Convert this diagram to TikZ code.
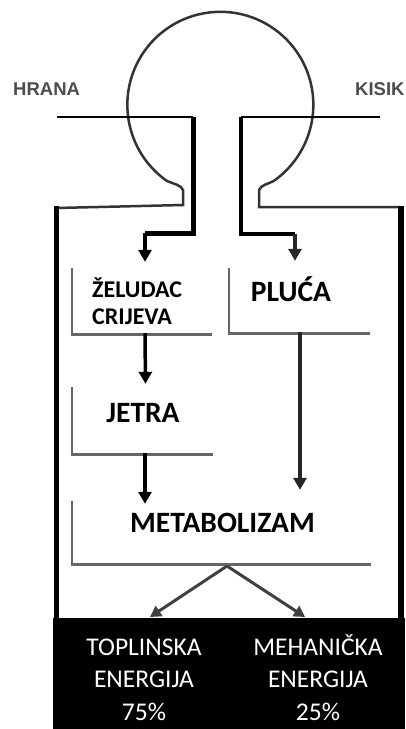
\documentclass[tikz,border=0pt]{standalone}
\usepackage{fontspec}
\setmainfont{Carlito}
\newfontfamily\inletfont{Liberation Sans}
\usetikzlibrary{arrows.meta,shadows}

\begin{document}
\begin{tikzpicture}[x=1pt,y=-1pt,
	organ/.style={fill=white,inner sep=0pt,general shadow={fill=black!60,shadow xshift=-2pt,shadow yshift=-2.5pt}},
	organtext/.style={font=\fontsize{29.5}{30}\selectfont\bfseries,inner sep=0pt,anchor=base},
	inlet/.style={font=\inletfont\fontsize{18.5}{20}\selectfont\bfseries,text=black!70,inner sep=0pt,anchor=base west},
	energy/.style={font=\fontsize{25.5}{32.5}\selectfont,text=white,align=center,inner sep=0pt,anchor=base},
	outline/.style={draw=black!80,line width=2.5pt},
	wall/.style={line width=5.5pt},
	flow/.style={line width=3.5pt,-{Triangle[width=13pt,length=12pt]}},
	split/.style={draw=black!75,line width=3pt,-{Triangle[width=12pt,length=11pt]}}]
	\useasboundingbox (0,0) rectangle (405,729);
	\draw[outline] (56,208) -- (183,205) -- (183,190) .. controls (181,185) and (174,184) .. (167,181)
		arc[start angle=125,end angle=415,radius=93]
		.. controls (268,184) and (261,185) .. (259,190) -- (259,207) -- (400,207);
	\draw[wall] (56.5,206) -- (56.5,620);
	\draw[wall] (401,206) -- (401,620);
	\fill (53,618) rectangle (405,729);
	\node[inlet] (hrana) at (13,95) {HRANA};
	\node[inlet] (kisik) at (355,95) {KISIK};
	\node[organ,minimum width=141,minimum height=68] (zeludac) at (143.5,299) {};
	\node[organ,minimum width=142,minimum height=67] (pluca) at (301,298.5) {};
	\node[organ,minimum width=142,minimum height=69] (jetra) at (144,418.5) {};
	\node[organ,minimum width=300,minimum height=65] (metabolizam) at (223,530.5) {};
	\node[font=\fontsize{24}{27}\selectfont\bfseries,inner sep=0pt,anchor=base west,align=left] (zeludactext) at (92,324) {ŽELUDAC\\CRIJEVA};
	\node[organtext] (plucatext) at (291,301) {PLUĆA};
	\node[organtext] (jetratext) at (143,422) {JETRA};
	\node[organtext] (metabolizamtext) at (222.5,532) {METABOLIZAM};
	\coordinate (hranain) at (57,117);
	\coordinate (hranacorner) at (193,117);
	\coordinate (hranabend) at (193,233);
	\coordinate (hranadrop) at (145,233);
	\coordinate (kisikin) at (380,117);
	\coordinate (kisikcorner) at (241,117);
	\coordinate (kisikbend) at (241,234);
	\coordinate (kisikdrop) at (295,234);
	\coordinate (apex) at (227,566);
	\draw[line width=2.5pt] (hranain) -- (hranacorner);
	\draw[line width=5pt] (hranacorner) -- (hranabend) -- (hranadrop);
	\draw[flow,shorten >=3pt] (hranadrop) -- (hranadrop |- zeludac.north);
	\draw[line width=2.5pt] (kisikin) -- (kisikcorner);
	\draw[line width=4pt] (kisikcorner) -- (kisikbend) -- (kisikdrop);
	\draw[flow,draw=black!85,shorten >=4pt] (kisikdrop) -- (kisikdrop |- pluca.north);
	\draw[flow] ([xshift=1.5pt]zeludac.south) -- ([xshift=1.5pt]jetra.north);
	\draw[flow,shorten >=-6pt] ([xshift=1pt]jetra.south) -- ([xshift=1pt]jetra.south |- metabolizam.north);
	\draw[flow,draw=black!85,shorten >=8pt] (300,332) -- (300,332 |- metabolizam.north);
	\draw[split] (apex) -- (150,617);
	\draw[split] (apex) -- (305,617);
	\node[energy] (toplinska) at (144,720) {TOPLINSKA\\ENERGIJA\\75\%};
	\node[energy] (mehanicka) at (318,720) {MEHANIČKA\\ENERGIJA\\25\%};
\end{tikzpicture}
\end{document}
